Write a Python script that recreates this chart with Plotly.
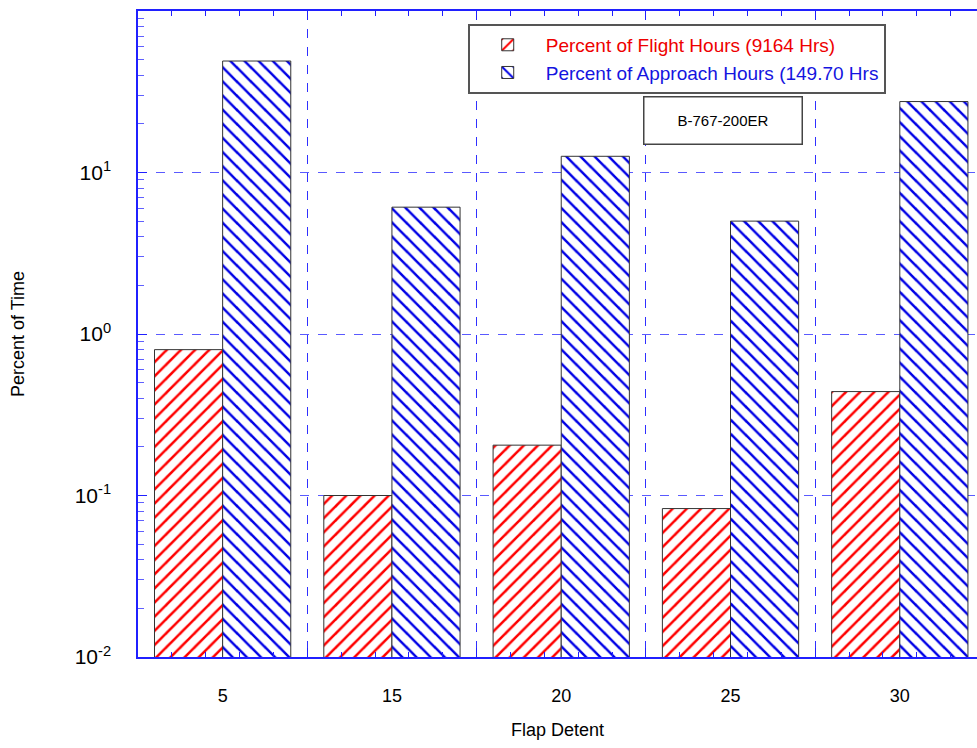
import plotly.graph_objects as go

categories = ["5", "15", "20", "25", "30"]
flight_pct = [0.80, 0.100, 0.205, 0.083, 0.44]
approach_pct = [49.0, 6.1, 12.6, 5.0, 27.5]
y_tickvals = [0.01, 0.1, 1, 10, 100]
y_ticktext = ["10<sup>-2</sup>", "10<sup>-1</sup>", "10<sup>0</sup>", "10<sup>1</sup>", "10<sup>2</sup>"]
flight_name = "Percent of Flight Hours (9164 Hrs)"
approach_name = "Percent of Approach Hours (149.70 Hrs"
note_text = "B-767-200ER"

pos = list(range(len(categories)))
boundaries = [p + 0.5 for p in pos[:-1]]
xr = [-0.5, 4.456]

FONT = "Liberation Sans, Arial, sans-serif"
AX = "#2020ff"

fig = go.Figure()
fig.add_trace(go.Bar(
    x=pos, y=flight_pct, name=f"<span style='color:#ee0000'>{flight_name}</span>",
    marker=dict(color="white", line=dict(color="#333333", width=1),
                pattern=dict(shape="/", fgcolor="#ff0000", bgcolor="white", size=10,
                             solidity=0.25, fgopacity=1, fillmode="replace")),
))
fig.add_trace(go.Bar(
    x=pos, y=approach_pct, name=f"<span style='color:#1414e0'>{approach_name}</span>",
    marker=dict(color="white", line=dict(color="#333333", width=1),
                pattern=dict(shape="\\", fgcolor="#0000e6", bgcolor="white", size=10,
                             solidity=0.25, fgopacity=1, fillmode="replace")),
))
# invisible trace to carry the overlay axis for grid / ticks at category boundaries
fig.add_trace(go.Scatter(x=boundaries, y=[1] * len(boundaries), xaxis="x2", mode="markers",
                         marker=dict(opacity=0), showlegend=False, hoverinfo="skip"))

fig.update_layout(
    width=977, height=748,
    margin=dict(l=138, r=0, t=11, b=91, autoexpand=False),
    paper_bgcolor="white", plot_bgcolor="white",
    font=dict(family=FONT, color="black"),
    barmode="group", bargap=0.195, bargroupgap=0,
    showlegend=True,
    legend=dict(x=0.393, y=0.98, xanchor="left", yanchor="top",
                bordercolor="#555555", borderwidth=2, bgcolor="white",
                font=dict(size=19, family=FONT), traceorder="normal",
                itemwidth=66, tracegroupgap=0),
    xaxis=dict(range=xr, tickvals=pos, ticktext=categories, ticks="",
               showgrid=False, zeroline=False, showline=False, automargin=False,
               tickfont=dict(size=18), ticklabelstandoff=26,
               title=dict(text="Flap Detent", font=dict(size=18), standoff=18)),
    xaxis2=dict(overlaying="x", range=xr, tickvals=boundaries, showticklabels=False,
                ticks="inside", ticklen=9, tickcolor=AX, showline=True, linecolor=AX,
                linewidth=1.5, mirror="allticks", showgrid=True, gridcolor="#3030ff",
                griddash="dash", gridwidth=1, zeroline=False, automargin=False,
                minor=dict(tickmode="linear", tick0=-0.5, dtick=0.2, ticks="inside",
                           ticklen=5, tickcolor=AX, showgrid=False)),
    yaxis=dict(type="log", range=[-2, 2], tickvals=y_tickvals, ticktext=y_ticktext,
               ticks="inside", ticklen=9, tickcolor=AX, showline=True, linecolor=AX,
               linewidth=1.5, showgrid=True, gridcolor="#5a5aff", griddash="dash",
               gridwidth=1, zeroline=False, tickfont=dict(size=21), ticklabelstandoff=21,
               automargin=False,
               minor=dict(dtick="D1", ticks="inside", ticklen=6, tickcolor="#6060ff", showgrid=False),
               title=dict(text="Percent of Time", font=dict(size=18), standoff=45)),
    annotations=[dict(text=note_text, xref="paper", yref="paper", x=0.697, y=0.831,
                      xanchor="center", yanchor="middle",
                      showarrow=False, font=dict(size=15, family=FONT, color="black"),
                      bordercolor="#444444", borderwidth=1.5, width=155, height=44,
                      bgcolor="white")],
)

fig.write_html("out.html", config={"displayModeBar": False},
               post_script="document.body.style.margin='0';")
